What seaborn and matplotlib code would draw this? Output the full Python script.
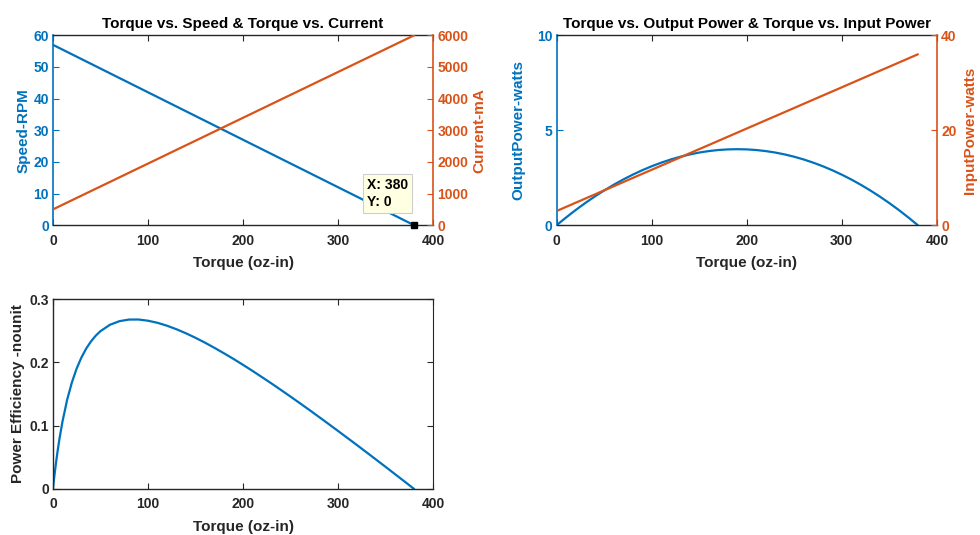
import seaborn as sns
import matplotlib.pyplot as plt
import pandas as pd

# values (torque in oz-in)
torque = [0, 1, 2, 3, 5, 7, 10, 15, 20, 25, 30, 35, 40, 45, 50, 60, 70, 80, 90, 100,
          110, 120, 130, 140, 150, 160, 170, 180, 190, 200, 210, 220, 230, 240, 250,
          260, 270, 280, 290, 300, 310, 320, 330, 340, 350, 360, 370, 380]
speed_rpm = [57, 56.85, 56.7, 56.55, 56.25, 55.95, 55.5, 54.75, 54, 53.25, 52.5, 51.75,
             51, 50.25, 49.5, 48, 46.5, 45, 43.5, 42, 40.5, 39, 37.5, 36, 34.5, 33, 31.5,
             30, 28.5, 27, 25.5, 24, 22.5, 21, 19.5, 18, 16.5, 15, 13.5, 12, 10.5, 9,
             7.5, 6, 4.5, 3, 1.5, 0]
current_ma = [500, 514, 529, 543, 572, 601, 645, 717, 790, 862, 934, 1007, 1079, 1151,
              1224, 1368, 1513, 1658, 1803, 1947, 2092, 2237, 2382, 2526, 2671, 2816,
              2961, 3105, 3250, 3395, 3539, 3684, 3829, 3974, 4118, 4263, 4408, 4553,
              4697, 4842, 4987, 5132, 5276, 5421, 5566, 5711, 5855, 6000]
out_power = [0, 0.042, 0.084, 0.125, 0.208, 0.290, 0.410, 0.607, 0.799, 0.984, 1.165,
             1.339, 1.509, 1.672, 1.830, 2.130, 2.407, 2.662, 2.895, 3.106, 3.294,
             3.461, 3.605, 3.727, 3.827, 3.904, 3.960, 3.993, 4.004, 3.993, 3.960,
             3.904, 3.827, 3.727, 3.605, 3.461, 3.294, 3.106, 2.895, 2.662, 2.407,
             2.130, 1.830, 1.509, 1.165, 0.799, 0.410, 0]
in_power = [3.0, 3.09, 3.17, 3.26, 3.43, 3.61, 3.87, 4.30, 4.74, 5.17, 5.61, 6.04, 6.47,
            6.91, 7.34, 8.21, 9.08, 9.95, 10.82, 11.68, 12.55, 13.42, 14.29, 15.16,
            16.03, 16.89, 17.76, 18.63, 19.50, 20.37, 21.24, 22.11, 22.97, 23.84,
            24.71, 25.58, 26.45, 27.32, 28.18, 29.05, 29.92, 30.79, 31.66, 32.53,
            33.39, 34.26, 35.13, 36.0]
efficiency = [0, 0.0136, 0.0264, 0.0385, 0.0606, 0.0803, 0.1061, 0.1412, 0.1686,
              0.1904, 0.2078, 0.2218, 0.2330, 0.2421, 0.2493, 0.2594, 0.2651, 0.2676,
              0.2677, 0.2658, 0.2625, 0.2579, 0.2523, 0.2459, 0.2388, 0.2311, 0.2229,
              0.2143, 0.2054, 0.1961, 0.1865, 0.1766, 0.1666, 0.1563, 0.1459, 0.1353,
              0.1246, 0.1137, 0.1027, 0.0916, 0.0804, 0.0692, 0.0578, 0.0464, 0.0349,
              0.0233, 0.0117, 0]

df = pd.DataFrame({'Torque': torque, 'Speed': speed_rpm, 'Current': current_ma,
                   'Pout': out_power, 'Pin': in_power, 'Eff': efficiency})

BLUE = '#0072BD'
ORANGE = '#D95319'
DARK = '#262626'
TICK = 10
LABEL = 11

sns.set_style("ticks")
plt.rcParams['font.family'] = ['Liberation Sans', 'DejaVu Sans']
plt.rcParams['font.weight'] = 'bold'
plt.rcParams['axes.labelweight'] = 'bold'
plt.rcParams['axes.titleweight'] = 'bold'

fig = plt.figure(figsize=(9.8, 5.35), dpi=100)
ax1 = fig.add_axes([0.054, 0.579, 0.388, 0.355])
ax2 = fig.add_axes([0.568, 0.579, 0.388, 0.355])
ax3 = fig.add_axes([0.054, 0.086, 0.388, 0.355])


def style_axes(ax, left_color, right_color=None):
    for s in ['top', 'bottom']:
        ax.spines[s].set_color(DARK)
        ax.spines[s].set_linewidth(1.0)
    ax.spines['left'].set_color(left_color)
    ax.spines['left'].set_linewidth(1.2)
    ax.spines['right'].set_color(DARK)
    ax.tick_params(axis='x', direction='in', top=True, colors=DARK, labelsize=TICK,
                   length=4, pad=6)
    ax.tick_params(axis='y', direction='in', left=True, right=(right_color is None),
                   colors=left_color, labelsize=TICK, length=4, pad=3)
    ax.set_xlim(0, 400)
    ax.set_xticks([0, 100, 200, 300, 400])
    ax.set_xlabel('Torque (oz-in)', fontsize=LABEL, color=DARK, labelpad=6)


def style_twin(axb, color):
    for s in ['top', 'bottom', 'left']:
        axb.spines[s].set_visible(False)
    axb.spines['right'].set_color(color)
    axb.spines['right'].set_linewidth(1.2)
    axb.tick_params(axis='y', direction='in', colors=color, labelsize=TICK, length=4, pad=3)


# --- Torque vs Speed & Current
sns.lineplot(data=df, x='Torque', y='Speed', ax=ax1, color=BLUE, lw=1.6)
style_axes(ax1, BLUE, ORANGE)
ax1.spines['right'].set_visible(False)
ax1.set_ylim(0, 60)
ax1.set_yticks(range(0, 61, 10))
ax1.set_ylabel('Speed-RPM', fontsize=LABEL, color=BLUE, labelpad=2)
ax1.set_title('Torque vs. Speed & Torque vs. Current', fontsize=LABEL, color='black', pad=5)
ax1b = ax1.twinx()
sns.lineplot(data=df, x='Torque', y='Current', ax=ax1b, color=ORANGE, lw=1.6)
style_twin(ax1b, ORANGE)
ax1b.set_ylim(0, 6000)
ax1b.set_yticks(range(0, 6001, 1000))
ax1b.set_ylabel('Current-mA', fontsize=LABEL, color=ORANGE, labelpad=3)

# data tip
ax1.plot([torque[-1]], [speed_rpm[-1]], 's', color='black', ms=5, clip_on=False, zorder=6)
ax1.annotate(f'X: {torque[-1]}\nY: {speed_rpm[-1]}', xy=(torque[-1], speed_rpm[-1]),
             xytext=(-6, 16), textcoords='offset pixels', ha='right', va='bottom',
             multialignment='left', fontsize=TICK, color='black', linespacing=1.3,
             bbox=dict(boxstyle='square,pad=0.3', fc='#FFFFE1', ec='#CFCFCF', lw=0.8),
             zorder=7)

# --- Torque vs Output & Input power
sns.lineplot(data=df, x='Torque', y='Pout', ax=ax2, color=BLUE, lw=1.6)
style_axes(ax2, BLUE, ORANGE)
ax2.spines['right'].set_visible(False)
ax2.set_ylim(0, 10)
ax2.set_yticks([0, 5, 10])
ax2.set_ylabel('OutputPower-watts', fontsize=LABEL, color=BLUE, labelpad=8)
ax2.set_title('Torque vs. Output Power & Torque vs. Input Power', fontsize=LABEL,
              color='black', pad=5)
ax2b = ax2.twinx()
sns.lineplot(data=df, x='Torque', y='Pin', ax=ax2b, color=ORANGE, lw=1.6)
style_twin(ax2b, ORANGE)
ax2b.set_ylim(0, 40)
ax2b.set_yticks([0, 20, 40])
ax2b.set_ylabel('InputPower-watts', fontsize=LABEL, color=ORANGE, labelpad=5)

# --- Efficiency
sns.lineplot(data=df, x='Torque', y='Eff', ax=ax3, color=BLUE, lw=1.6)
style_axes(ax3, DARK)
ax3.spines['left'].set_linewidth(1.0)
ax3.set_ylim(0, 0.3)
ax3.set_yticks([0, 0.1, 0.2, 0.3])
ax3.set_yticklabels(['0', '0.1', '0.2', '0.3'])
ax3.set_ylabel('Power Efficiency -nounit', fontsize=LABEL, color=DARK, labelpad=3)

plt.savefig('out.png', dpi=100)
